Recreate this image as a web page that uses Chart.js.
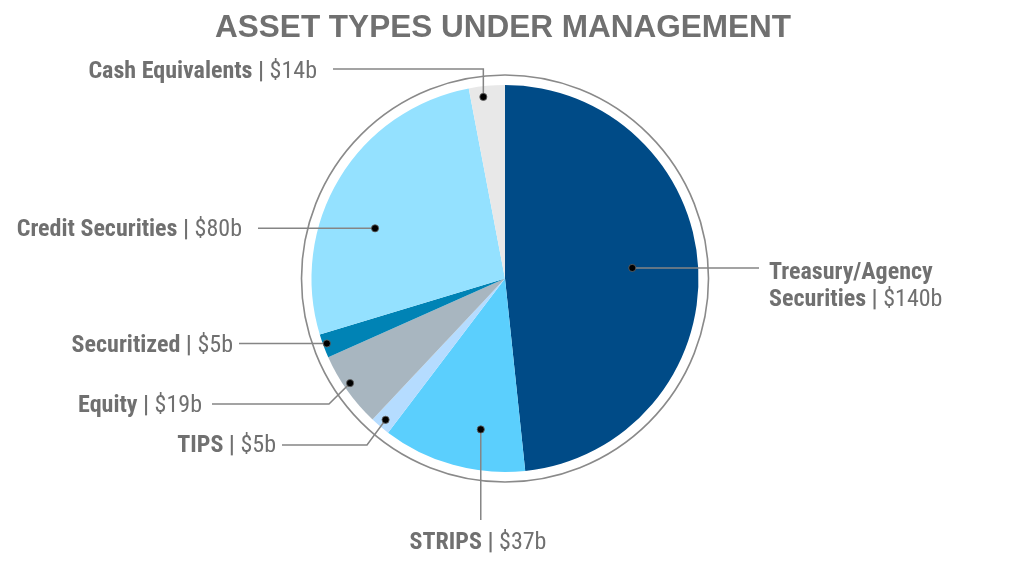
<!DOCTYPE html>
<html>
<head>
<meta charset="utf-8">
<script src="https://cdn.jsdelivr.net/npm/chart.js@4"></script>
<style>
html,body{margin:0;padding:0;background:#fff;}
#wrap{width:1024px;height:568px;position:relative;}
</style>
</head>
<body>
<div id="wrap"><canvas id="c" width="1024" height="568"></canvas></div>
<script>
// ---- data ----
const categories = ['Treasury/Agency Securities', 'STRIPS', 'TIPS', 'Equity', 'Securitized', 'Credit Securities', 'Cash Equivalents'];
const sliceValues = [145, 36, 5, 19, 6, 80, 9];          // slice sizes as drawn ($b)
const amountLabels = ['$140b', '$37b', '$5b', '$19b', '$5b', '$80b', '$14b'];
const sliceColors = ['#004b87', '#5bcffd', '#b5dcff', '#a8b6c0', '#0083b5', '#94e1ff', '#e8e8e8'];
const titleText = 'ASSET TYPES UNDER MANAGEMENT';

// ---- label layout (positions/styles) ----
const layout = [
  {frac:0.49, rf:0.66, path:(d)=>[[759,d.y]], lines:[['Treasury/Agency',''],['Securities | ','$140b']], align:'left', x:769, y:[271,298]},
  {frac:0.35, rf:0.79, path:(d)=>[[d.x,520]], align:'center', x:478, y:[541]},
  {frac:0.5, rf:0.956, path:(d)=>[[367,445],[282,445]], align:'right', x:276, y:[444]},
  {frac:0.56, rf:0.966, path:(d)=>[[329,404],[212,404]], align:'right', x:202, y:[404]},
  {frac:0.55, rf:0.98, path:(d)=>[[239,d.y]], align:'right', x:233, y:[344]},
  {frac:0.395, rf:0.72, path:(d)=>[[258,d.y]], align:'right', x:242, y:[228]},
  {frac:0.37, rf:0.945, path:(d)=>[[d.x,69],[333,69]], align:'right', x:317, y:[70]}
];
const FONT = '"Liberation Sans Narrow","Arial Narrow","Roboto Condensed","Liberation Sans",sans-serif';
const TEXT_COLOR = '#707070';

const decor = {
  id: 'decor',
  afterDatasetsDraw(chart) {
    const ctx = chart.ctx;
    const meta = chart.getDatasetMeta(0);
    const a0 = meta.data[0];
    const cx = a0.x, cy = a0.y, R = a0.outerRadius;
    ctx.save();
    // outer ring
    ctx.beginPath();
    ctx.arc(cx, cy, R + 10, 0, Math.PI * 2);
    ctx.strokeStyle = '#8a8a8a';
    ctx.lineWidth = 1.6;
    ctx.stroke();
    // title
    ctx.fillStyle = TEXT_COLOR;
    ctx.font = 'bold 31.5px "Liberation Sans",Arial,sans-serif';
    ctx.textAlign = 'center';
    ctx.textBaseline = 'middle';
    ctx.fillText(titleText, 503, 28.5);
    // leaders + labels
    meta.data.forEach((el, i) => {
      const L = layout[i];
      const ang = el.startAngle + L.frac * (el.endAngle - el.startAngle);
      const d = {x: cx + R * L.rf * Math.cos(ang), y: cy + R * L.rf * Math.sin(ang)};
      ctx.beginPath();
      ctx.moveTo(d.x, d.y);
      L.path(d).forEach(p => ctx.lineTo(p[0], p[1]));
      ctx.strokeStyle = '#858585';
      ctx.lineWidth = 1.5;
      ctx.stroke();
      ctx.beginPath();
      ctx.arc(d.x, d.y, 3.6, 0, Math.PI * 2);
      ctx.fillStyle = '#000';
      ctx.fill();
      ctx.lineWidth = 0.8;
      ctx.strokeStyle = '#666';
      ctx.stroke();
      const lines = L.lines || [[categories[i] + ' | ', amountLabels[i]]];
      lines.forEach((ln, k) => {
        const boldF = 'bold 24px ' + FONT, regF = '24px ' + FONT;
        ctx.font = boldF; const w1 = ctx.measureText(ln[0]).width;
        ctx.font = regF; const w2 = ctx.measureText(ln[1]).width;
        const tw = w1 + w2;
        let sx = L.x;
        if (L.align === 'right') sx = L.x - tw;
        else if (L.align === 'center') sx = L.x - tw / 2;
        ctx.textAlign = 'left';
        ctx.textBaseline = 'middle';
        ctx.fillStyle = TEXT_COLOR;
        const ty = L.y[k] + 1.5;
        ctx.font = boldF; ctx.fillText(ln[0], sx, ty);
        ctx.font = regF; ctx.fillText(ln[1], sx + w1, ty);
      });
    });
    ctx.restore();
  }
};

new Chart(document.getElementById('c'), {
  type: 'pie',
  data: {
    labels: categories,
    datasets: [{data: sliceValues, backgroundColor: sliceColors, borderWidth: 0, hoverOffset: 0}]
  },
  options: {
    responsive: false,
    animation: false,
    layout: {padding: {top: 85, bottom: 96, left: 0, right: 14}},
    plugins: {legend: {display: false}, title: {display: false}, tooltip: {enabled: false}}
  },
  plugins: [decor]
});
</script>
</body>
</html>
